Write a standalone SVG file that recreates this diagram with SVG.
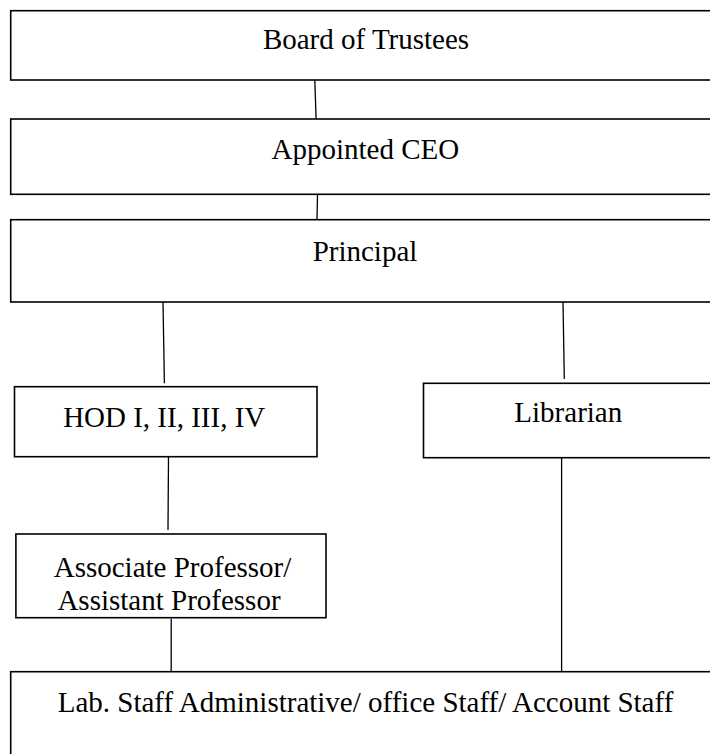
<svg xmlns="http://www.w3.org/2000/svg" width="710" height="754" viewBox="0 0 710 754">
<style>
.box{fill:#fff;stroke:#000;stroke-width:1.6}
.lbl{font-family:"Liberation Serif","Times New Roman",serif;font-size:29px;fill:#000;text-anchor:middle}
.con{stroke:#000;stroke-width:1.3;fill:none}
</style>
<rect width="710" height="754" fill="#fff"/>
<g id="board">
<rect class="box" x="10.7" y="10.7" width="720" height="69.3"/>
<text class="lbl" x="366" y="49.3">Board of Trustees</text>
</g>
<g id="ceo">
<rect class="box" x="10.7" y="119" width="720" height="75.3"/>
<text class="lbl" x="365.3" y="159">Appointed CEO</text>
</g>
<g id="principal">
<rect class="box" x="10.7" y="219.7" width="720" height="82.3"/>
<text class="lbl" x="365" y="261">Principal</text>
</g>
<g id="hod">
<rect class="box" x="14.5" y="386.7" width="302.5" height="70"/>
<text class="lbl" x="164.2" y="426.7">HOD I, II, III, IV</text>
</g>
<g id="librarian">
<rect class="box" x="423.5" y="383.3" width="320" height="74.4"/>
<text class="lbl" x="568.3" y="421.7">Librarian</text>
</g>
<g id="professors">
<rect class="box" x="15.9" y="534" width="310.1" height="83.7"/>
<text class="lbl" x="172.5" y="576.7">Associate Professor/</text>
<text class="lbl" x="169" y="610">Assistant Professor</text>
</g>
<g id="staff">
<rect class="box" x="10.7" y="671.7" width="720" height="120"/>
<text class="lbl" x="365.5" y="711.7">Lab. Staff Administrative/ office Staff/ Account Staff</text>
</g>
<g id="connectors">
<line class="con" x1="314.8" y1="80" x2="316.1" y2="119"/>
<line class="con" x1="317.5" y1="194.3" x2="317" y2="219.7"/>
<line class="con" x1="163" y1="302" x2="164.4" y2="383.3"/>
<line class="con" x1="563" y1="302" x2="564.3" y2="379"/>
<line class="con" x1="168.5" y1="456.7" x2="168" y2="530"/>
<line class="con" x1="561.6" y1="457.7" x2="561.6" y2="671.7"/>
<line class="con" x1="171.2" y1="618.7" x2="171.2" y2="671.7"/>
</g>
</svg>
